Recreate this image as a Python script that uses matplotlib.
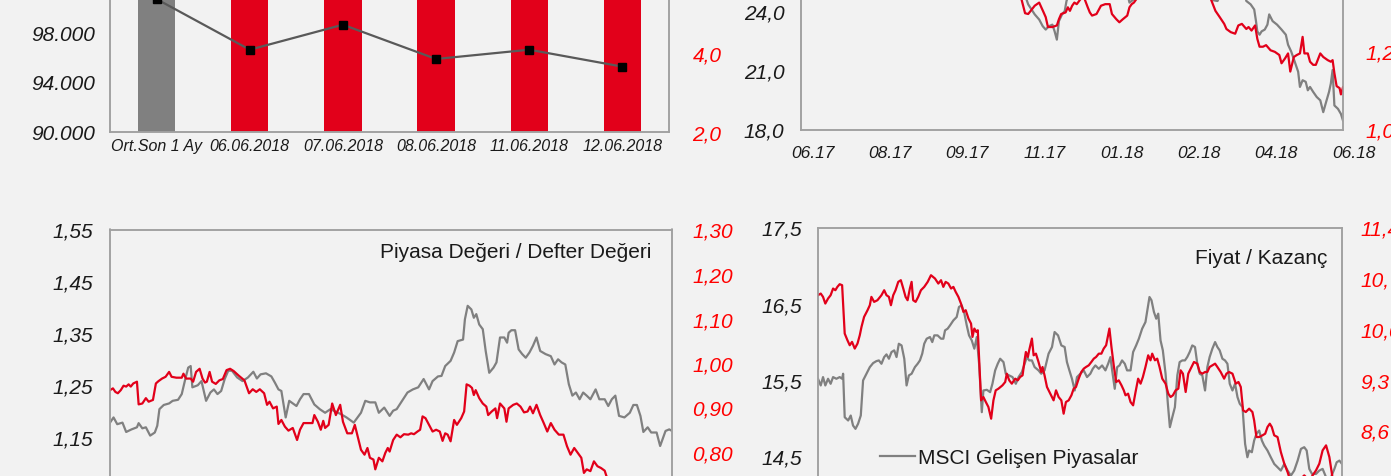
import matplotlib
matplotlib.use("Agg")
import matplotlib.pyplot as plt
import matplotlib.transforms as mtransforms

plt.rcParams['font.family'] = ['Liberation Sans', 'DejaVu Sans']

# ---------------- DATA ----------------
# Panel 1: BIST-100 index (line, left axis) and volume (bars, right axis)
p1_categories = ["Ort.Son 1 Ay", "06.06.2018", "07.06.2018", "08.06.2018", "11.06.2018", "12.06.2018"]
p1_index = [100700, 96610, 98630, 95860, 96610, 95240]
p1_volume = [7.4, 6.6, 6.9, 6.1, 5.9, 6.3]
p1_left_ticks = [90000, 94000, 98000, 102000]
p1_right_ticks = [2.0, 4.0, 6.0]

# Panel 2 (days since 12.06.2017)
p2_gray_x = [0, 30, 60, 90, 120, 145, 150.0, 153.0, 157.4, 160.4, 162.8, 164.8, 166.9, 169.3, 170.8, 172.3,
             173.7, 175.8, 177.6, 178.8, 181.1, 195, 210, 219.5, 221.2, 224.2, 226, 240, 260, 274, 277.6,
             280.5, 283.5, 290, 298.4, 299.9, 302.8, 305.2, 306.4, 307.3, 308.8, 310.2, 312.3, 314.1, 315.3,
             317.6, 320.6, 323.6, 326.5, 328.0, 330.1, 332.5, 334.8, 336.0, 337.8, 339.9, 341.3, 342.8, 344.9,
             347.3, 349.7, 351.7, 353.3, 355.6, 356.8, 358.0, 359.2, 361.6, 363.6, 365.0]
p2_gray_y = [27.0, 27.8, 28.5, 27.6, 28.6, 26.2, 25.0, 24.35, 23.84, 23.58, 23.24, 23.07, 23.24, 23.32, 22.98, 22.56,
             23.50, 23.84, 24.01, 24.52, 25.0, 26.2, 25.8, 25.0, 24.44, 24.61, 25.2, 26.5, 27.0, 25.3, 24.56,
             24.52, 25.0, 25.8, 25.0, 24.52, 24.35, 24.09, 23.50, 22.98, 22.81, 22.98, 23.07, 23.32, 23.84,
             23.50, 23.32, 23.07, 22.81, 22.30, 21.96, 21.44, 20.93, 20.16, 20.50, 20.42, 19.99, 20.16, 19.91,
             19.65, 19.48, 18.88, 19.31, 19.91, 20.33, 21.02, 19.22, 19.05, 18.79, 18.45]
p2_red_x = [0, 30, 60, 90, 120, 140, 148.5, 150.9, 153.0, 155.1, 157.4, 160.4, 163.4, 164.8, 166.3, 169.3, 172.3,
            173.7, 175.2, 178.2, 179.7, 181.1, 182.6, 184.1, 185.7, 190.1, 193.1, 194.5, 196.0, 199.0, 202.0,
            204.9, 207.9, 209.4, 212.3, 214.4, 216.8, 219.7, 221.2, 222.7, 224.2, 225.7, 240, 260, 276.1, 279.1,
            282.0, 285.0, 286.5, 289.4, 292.4, 294.5, 296.9, 299.9, 301.4, 303.4, 305.8, 307.3, 308.8, 311.1,
            313.2, 316.2, 319.1, 322.1, 323.6, 325.9, 328.0, 329.5, 331.9, 333.9, 336.0, 337.8, 339.0, 341.3,
            342.8, 344.9, 346.7, 349.7, 351.7, 354.7, 356.8, 358.0, 359.2, 360.7, 362.7, 363.6, 365.0]
p2_red_y = [1.42, 1.47, 1.50, 1.45, 1.48, 1.40, 1.33, 1.295, 1.293, 1.303, 1.314, 1.322, 1.297, 1.285, 1.260, 1.260,
            1.264, 1.280, 1.293, 1.297, 1.310, 1.301, 1.314, 1.322, 1.318, 1.34, 1.310, 1.297, 1.289, 1.293, 1.314,
            1.318, 1.318, 1.293, 1.280, 1.272, 1.280, 1.289, 1.310, 1.318, 1.322, 1.33, 1.40, 1.44, 1.33, 1.301,
            1.285, 1.268, 1.255, 1.247, 1.243, 1.264, 1.268, 1.255, 1.260, 1.251, 1.264, 1.230, 1.210, 1.210,
            1.214, 1.201, 1.197, 1.189, 1.168, 1.180, 1.193, 1.147, 1.184, 1.189, 1.193, 1.235, 1.193, 1.193,
            1.172, 1.164, 1.164, 1.193, 1.184, 1.176, 1.172, 1.176, 1.143, 1.110, 1.105, 1.089, 1.107]
p2_date_ticks = [0, 52, 104, 156, 208, 260, 312, 364]
p2_date_labels = ["06.17", "08.17", "09.17", "11.17", "01.18", "02.18", "04.18", "06.18"]
p2_left_ticks = [18.0, 21.0, 24.0, 27.0, 30.0]
p2_right_ticks = [1.0, 1.2, 1.4, 1.6]

# Panel 3: Piyasa Değeri / Defter Değeri
p3_gray_x = [0.0, 2.3, 4.7, 8.1, 10.5, 14.0, 17.5, 18.6, 21.0, 23.3,
             26.1, 29.1, 30.7, 32.1, 34.9, 38.4, 40.7, 44.2, 46.6, 48.9,
             50.8, 52.4, 53.5, 57.0, 59.4, 62.4, 65.2, 67.5, 69.8, 72.2,
             74.5, 76.8, 79.2, 82.6, 86.1, 89.6, 93.1, 95.4, 97.8, 101.3,
             104.8, 107.1, 109.4, 111.3, 114.1, 116.4, 121.1, 123.4, 125.7, 129.2,
             132.7, 136.2, 139.7, 143.2, 146.7, 150.2, 153.6, 158.3, 163.0, 165.8,
             168.8, 172.3, 174.6, 178.1, 181.6, 183.9, 186.2, 189.7, 193.2, 196.7,
             200.2, 203.7, 207.2, 209.5, 213.0, 215.3, 217.7, 221.2, 223.5, 225.8,
             229.3, 230.5, 232.3, 234.7, 236.3, 237.9, 239.8, 242.1, 244.0, 246.3,
             249.1, 251.0, 253.3, 256.1, 257.9, 258.9, 260.7, 263.1, 265.4, 267.7,
             270.0, 272.4, 274.7, 277.0, 279.4, 282.9, 286.3, 288.7, 291.0, 293.3,
             295.7, 298.0, 300.3, 302.6, 305.0, 307.3, 309.6, 312.0, 315.4, 317.8,
             321.3, 323.6, 325.9, 328.2, 330.6, 334.1, 337.6, 339.9, 342.2, 344.5,
             346.4, 349.2, 351.5, 355.0, 357.3, 360.8, 363.2, 365.0]
p3_gray_y = [1.178, 1.188, 1.175, 1.178, 1.160, 1.165, 1.169, 1.177, 1.167, 1.169,
             1.153, 1.159, 1.172, 1.204, 1.212, 1.215, 1.220, 1.222, 1.233, 1.262,
             1.284, 1.287, 1.246, 1.250, 1.258, 1.220, 1.236, 1.242, 1.233, 1.239,
             1.262, 1.278, 1.278, 1.265, 1.258, 1.265, 1.276, 1.263, 1.271, 1.273,
             1.267, 1.255, 1.242, 1.239, 1.188, 1.220, 1.210, 1.223, 1.233, 1.233,
             1.213, 1.204, 1.197, 1.204, 1.199, 1.194, 1.188, 1.178, 1.197, 1.220,
             1.217, 1.217, 1.197, 1.207, 1.191, 1.201, 1.204, 1.220, 1.236, 1.242,
             1.246, 1.262, 1.242, 1.258, 1.267, 1.268, 1.287, 1.297, 1.313, 1.335,
             1.338, 1.377, 1.403, 1.396, 1.380, 1.387, 1.367, 1.358, 1.316, 1.274,
             1.284, 1.294, 1.342, 1.342, 1.332, 1.351, 1.356, 1.356, 1.319, 1.310,
             1.303, 1.313, 1.326, 1.342, 1.316, 1.310, 1.306, 1.290, 1.300, 1.294,
             1.290, 1.252, 1.230, 1.236, 1.223, 1.236, 1.230, 1.223, 1.242, 1.223,
             1.223, 1.210, 1.223, 1.230, 1.191, 1.188, 1.197, 1.212, 1.212, 1.191,
             1.160, 1.169, 1.159, 1.159, 1.133, 1.162, 1.165, 1.162]
p3_red_x = [0.0, 1.9, 3.5, 5.1, 7.0, 8.8, 10.5, 12.1, 13.5, 15.1,
            17.5, 18.6, 21.0, 23.3, 25.1, 27.9, 29.8, 31.4, 33.8, 36.1,
            38.4, 40.0, 43.1, 46.6, 47.7, 49.4, 52.4, 54.0, 55.9, 58.2,
            60.1, 61.7, 62.9, 64.7, 66.3, 68.7, 71.0, 73.3, 75.7, 78.0,
            80.3, 83.8, 87.3, 90.3, 92.7, 95.0, 97.3, 100.1, 102.0, 103.6,
            105.9, 108.3, 109.4, 111.3, 113.6, 115.9, 118.7, 121.5, 123.4, 125.7,
            129.2, 131.5, 132.7, 135.0, 136.9, 138.5, 139.7, 142.0, 144.3, 146.7,
            149.5, 151.3, 154.1, 157.1, 159.0, 160.6, 163.0, 165.3, 167.2, 168.8,
            171.1, 172.3, 174.6, 176.9, 178.8, 180.4, 181.6, 183.9, 186.2, 188.6,
            190.9, 193.7, 195.6, 197.4, 199.7, 201.4, 203.0, 204.9, 207.2, 209.5,
            211.8, 214.2, 216.0, 217.7, 219.3, 221.2, 223.5, 225.3, 228.1, 230.0,
            231.6, 233.5, 235.1, 236.3, 237.5, 239.8, 242.1, 244.4, 245.6, 247.9,
            250.3, 251.4, 253.3, 256.1, 257.5, 258.9, 261.9, 264.2, 266.6, 268.9,
            271.2, 272.8, 274.7, 277.0, 279.4, 281.7, 284.0, 286.3, 288.7, 291.5,
            294.5, 296.8, 299.1, 301.5, 303.8, 306.1, 307.8, 309.6, 312.0, 314.3,
            316.6, 318.9, 321.3, 322.4, 325.9, 332.9, 339.9, 346.9, 353.9, 360.8,
            365.0]
p3_red_y = [0.939, 0.943, 0.935, 0.932, 0.939, 0.949, 0.947, 0.952, 0.947, 0.954,
            0.958, 0.907, 0.909, 0.921, 0.913, 0.917, 0.954, 0.959, 0.965, 0.969,
            0.980, 0.969, 0.967, 0.967, 0.976, 0.965, 0.965, 0.958, 0.980, 0.987,
            0.965, 0.956, 0.958, 0.980, 0.958, 0.953, 0.961, 0.964, 0.984, 0.987,
            0.982, 0.971, 0.961, 0.932, 0.941, 0.935, 0.941, 0.932, 0.906, 0.913,
            0.898, 0.902, 0.863, 0.872, 0.857, 0.848, 0.854, 0.827, 0.850, 0.865,
            0.865, 0.865, 0.883, 0.868, 0.850, 0.870, 0.854, 0.861, 0.909, 0.883,
            0.906, 0.868, 0.842, 0.842, 0.861, 0.839, 0.805, 0.794, 0.809, 0.787,
            0.783, 0.761, 0.787, 0.779, 0.798, 0.809, 0.801, 0.827, 0.839, 0.833,
            0.840, 0.839, 0.842, 0.840, 0.846, 0.850, 0.880, 0.876, 0.861, 0.846,
            0.850, 0.846, 0.825, 0.842, 0.839, 0.824, 0.872, 0.861, 0.876, 0.891,
            0.952, 0.949, 0.944, 0.928, 0.939, 0.921, 0.909, 0.902, 0.883, 0.891,
            0.898, 0.876, 0.909, 0.898, 0.868, 0.898, 0.906, 0.909, 0.902, 0.889,
            0.891, 0.902, 0.887, 0.906, 0.883, 0.865, 0.846, 0.865, 0.850, 0.839,
            0.839, 0.813, 0.794, 0.809, 0.798, 0.787, 0.753, 0.761, 0.757, 0.779,
            0.768, 0.764, 0.758, 0.746, 0.730, 0.715, 0.700, 0.710, 0.690, 0.700,
            0.695]
p3_left_ticks = [0.95, 1.05, 1.15, 1.25, 1.35, 1.45, 1.55]
p3_right_ticks = [0.60, 0.70, 0.80, 0.90, 1.00, 1.10, 1.20, 1.30]

# Panel 4: Fiyat / Kazanç
p4_gray_x = [0.0, 1.9, 3.5, 5.1, 7.0, 8.8, 10.5, 12.8, 15.1, 16.8,
             17.5, 18.6, 21.0, 22.8, 24.4, 26.1, 27.9, 29.8, 31.4, 33.8,
             36.1, 38.4, 40.7, 42.4, 44.2, 46.1, 47.7, 49.4, 51.2, 53.1,
             54.7, 56.3, 58.2, 60.1, 61.7, 63.3, 65.2, 67.5, 69.4, 71.0,
             72.6, 74.0, 75.7, 78.0, 79.6, 81.0, 83.3, 85.7, 87.3, 88.5,
             90.3, 92.0, 94.3, 96.6, 98.2, 100.1, 102.0, 103.6, 105.2, 107.1,
             108.9, 110.6, 112.2, 114.1, 115.2, 117.6, 119.9, 121.5, 123.4, 125.2,
             126.9, 129.2, 130.8, 133.2, 135.5, 137.8, 139.7, 142.0, 143.9, 145.5,
             147.1, 149.0, 150.9, 153.6, 155.5, 157.8, 160.6, 163.0, 164.8, 167.2,
             169.5, 171.8, 173.4, 175.1, 176.9, 178.8, 180.4, 182.7, 185.1, 187.4,
             189.7, 191.4, 193.2, 195.6, 197.9, 200.2, 202.1, 203.7, 204.9, 206.7,
             208.4, 210.0, 211.8, 213.7, 215.3, 217.7, 219.5, 221.6, 223.5, 225.8,
             228.1, 230.0, 230.9, 232.3, 234.0, 235.6, 237.0, 238.6, 240.2, 242.1,
             243.7, 245.1, 246.8, 248.6, 250.3, 251.9, 253.8, 255.6, 257.2, 258.9,
             260.7, 262.6, 264.2, 265.9, 267.7, 269.6, 271.2, 272.8, 274.7, 276.6,
             278.2, 279.8, 281.7, 283.5, 285.2, 286.8, 288.7, 290.5, 292.2, 293.8,
             295.7, 297.5, 299.1, 300.3, 302.2, 303.8, 305.4, 307.3, 309.2, 310.8,
             313.1, 315.4, 317.8, 320.1, 322.4, 324.8, 327.1, 329.4, 331.7, 334.1,
             336.4, 338.7, 340.4, 342.2, 344.1, 346.9, 349.2, 351.5, 353.9, 357.3,
             359.7, 361.3, 363.2, 365.0]
p4_gray_y = [15.513, 15.425, 15.535, 15.425, 15.513, 15.447, 15.535, 15.513, 15.535, 15.513,
             15.579, 15.008, 14.965, 15.030, 14.899, 14.855, 14.921, 15.030, 15.491, 15.579,
             15.666, 15.719, 15.745, 15.754, 15.710, 15.798, 15.833, 15.776, 15.864, 15.886,
             15.798, 15.973, 15.951, 15.776, 15.425, 15.557, 15.579, 15.666, 15.710, 15.754,
             15.842, 15.973, 16.039, 16.061, 15.995, 16.083, 16.083, 16.039, 16.039, 16.149,
             16.171, 16.215, 16.280, 16.324, 16.456, 16.478, 16.368, 16.215, 16.083, 16.017,
             15.908, 16.061, 15.710, 15.074, 15.359, 15.368, 15.337, 15.447, 15.623, 15.710,
             15.776, 15.732, 15.579, 15.557, 15.535, 15.447, 15.535, 15.601, 15.710, 15.798,
             15.754, 15.754, 15.666, 15.623, 15.579, 15.623, 15.842, 15.930, 16.127, 16.083,
             15.951, 15.930, 15.732, 15.623, 15.513, 15.359, 15.535, 15.579, 15.623, 15.535,
             15.579, 15.644, 15.688, 15.644, 15.688, 15.623, 15.710, 15.798, 15.623, 15.381,
             15.666, 15.688, 15.754, 15.710, 15.623, 15.623, 15.864, 15.951, 16.039, 16.171,
             16.258, 16.478, 16.587, 16.544, 16.390, 16.302, 16.368, 16.017, 15.886, 15.579,
             15.184, 14.877, 15.008, 15.140, 15.557, 15.732, 15.754, 15.754, 15.798, 15.864,
             15.951, 15.930, 15.710, 15.579, 15.557, 15.359, 15.666, 15.798, 15.908, 15.995,
             15.930, 15.886, 15.776, 15.754, 15.710, 15.447, 15.359, 15.447, 15.272, 15.184,
             15.140, 14.658, 14.482, 14.570, 14.548, 14.701, 14.789, 14.833, 14.701, 14.636,
             14.570, 14.482, 14.394, 14.351, 14.307, 14.394, 14.307, 14.241, 14.307, 14.438,
             14.592, 14.614, 14.570, 14.329, 14.263, 14.263, 14.307, 14.329, 14.219, 14.219,
             14.329, 14.416, 14.438, 14.394]
p4_red_x = [0.0, 1.9, 3.5, 5.1, 7.0, 8.8, 10.5, 12.1, 13.5, 15.1,
            16.8, 18.6, 20.5, 22.1, 23.7, 25.6, 27.5, 29.1, 30.3, 32.1,
            34.5, 36.1, 37.2, 39.1, 41.4, 44.2, 46.1, 47.7, 49.4, 50.8,
            52.4, 54.0, 55.9, 57.7, 59.4, 61.0, 62.4, 64.0, 65.2, 66.3,
            68.0, 69.8, 71.7, 74.0, 76.4, 78.7, 81.5, 83.8, 85.7, 87.3,
            88.9, 90.8, 92.7, 94.3, 95.9, 97.8, 99.6, 101.3, 102.9, 104.8,
            106.6, 107.6, 108.9, 110.3, 111.3, 112.2, 113.6, 115.2, 116.9, 118.7,
            120.6, 122.2, 123.8, 125.7, 128.5, 130.4, 131.5, 133.2, 135.0, 137.4,
            139.2, 140.8, 142.5, 143.9, 144.8, 146.2, 147.1, 149.0, 150.2, 151.8,
            153.6, 155.5, 156.4, 157.8, 159.5, 161.8, 164.1, 165.8, 167.6, 169.5,
            171.1, 172.7, 174.6, 176.5, 178.1, 179.7, 181.6, 183.4, 185.1, 186.7,
            188.6, 190.4, 192.1, 193.7, 195.6, 197.4, 199.0, 200.7, 202.1, 203.0,
            204.4, 206.0, 207.7, 209.5, 211.4, 213.0, 214.2, 216.0, 217.7, 219.5,
            221.2, 223.0, 224.7, 226.3, 228.1, 230.0, 231.6, 232.8, 234.7, 236.3,
            237.9, 239.8, 242.1, 244.0, 245.6, 247.2, 249.1, 251.0, 252.6, 254.2,
            256.1, 257.9, 259.6, 261.9, 264.2, 265.9, 267.7, 269.6, 271.2, 272.8,
            274.7, 276.6, 278.2, 280.5, 282.9, 284.5, 286.3, 288.7, 291.0, 292.9,
            294.5, 296.1, 298.0, 300.3, 302.6, 303.8, 305.4, 307.3, 309.6, 311.5,
            313.1, 314.7, 316.1, 317.8, 320.1, 322.4, 324.8, 327.1, 328.2, 332.9,
            338.7, 342.2, 346.9, 349.2, 351.5, 353.9, 356.2, 358.5, 362.0, 365.0]
p4_red_y = [10.466, 10.489, 10.443, 10.351, 10.420, 10.466, 10.558, 10.535, 10.581, 10.618,
            10.604, 9.937, 9.845, 9.776, 9.822, 9.730, 9.799, 9.914, 10.029, 10.167,
            10.259, 10.328, 10.443, 10.374, 10.397, 10.466, 10.535, 10.466, 10.443, 10.328,
            10.466, 10.535, 10.650, 10.673, 10.558, 10.443, 10.397, 10.558, 10.650, 10.397,
            10.374, 10.443, 10.535, 10.581, 10.650, 10.742, 10.696, 10.627, 10.673, 10.581,
            10.650, 10.627, 10.558, 10.581, 10.512, 10.443, 10.351, 10.236, 10.259, 10.144,
            10.075, 9.891, 10.006, 9.960, 9.983, 9.614, 9.016, 9.062, 8.993, 8.924,
            8.763, 9.016, 9.154, 9.177, 9.223, 9.269, 9.384, 9.292, 9.246, 9.315,
            9.292, 9.338, 9.361, 9.568, 9.683, 9.614, 9.706, 9.868, 9.637, 9.660,
            9.545, 9.407, 9.476, 9.361, 9.200, 9.108, 9.016, 9.154, 9.062, 9.016,
            8.832, 8.993, 9.016, 9.085, 9.177, 9.200, 9.315, 9.407, 9.453, 9.476,
            9.499, 9.545, 9.591, 9.614, 9.660, 9.660, 9.729, 9.776, 9.914, 10.006,
            9.753, 9.499, 9.269, 9.292, 9.223, 9.154, 9.085, 9.108, 8.993, 8.947,
            9.131, 9.315, 9.246, 9.338, 9.476, 9.637, 9.568, 9.660, 9.568, 9.591,
            9.476, 9.315, 9.246, 9.108, 9.062, 9.085, 9.154, 9.177, 9.430, 9.384,
            9.131, 9.384, 9.453, 9.545, 9.522, 9.407, 9.384, 9.407, 9.407, 9.476,
            9.499, 9.522, 9.476, 9.407, 9.315, 9.384, 9.407, 9.384, 9.246, 9.269,
            9.200, 8.878, 8.855, 8.901, 8.855, 8.740, 8.510, 8.510, 8.533, 8.556,
            8.648, 8.694, 8.648, 8.533, 8.510, 8.303, 8.142, 8.027, 7.958, 7.866,
            7.981, 7.912, 8.050, 8.142, 8.326, 8.395, 8.234, 7.935, 7.820, 7.866]
p4_left_ticks = [13.5, 14.5, 15.5, 16.5, 17.5]
p4_right_ticks = [7.2, 7.9, 8.6, 9.3, 10.0, 10.7, 11.4]
p4_legend = ["MSCI Gelişen Piyasalar", "Borsa İstanbul"]

# ---------------- STYLE ----------------
W, H = 1391, 477
BG = "#F2F2F2"
RED = "#E2001A"
GRAY = "#808080"
TICKRED = "#FF0000"
SPINE = "#A0A0A0"
TXT = "#1A1A1A"

fig = plt.figure(figsize=(W / 100, H / 100), dpi=100, facecolor=BG)


def rect(l, t, r, b):
    return [l / W, 1 - b / H, (r - l) / W, (b - t) / H]


def comma(decimals):
    return lambda v: f"{v:.{decimals}f}".replace(".", ",")


def dotted_thousands(v):
    return f"{v:,.0f}".replace(",", ".")


def style(ax, twin, lpad, rpad):
    ax.set_facecolor(BG)
    for a in (ax, twin):
        for s in a.spines.values():
            s.set_color(SPINE)
            s.set_linewidth(1.1)
    ax.tick_params(axis="y", length=0, pad=lpad)
    twin.tick_params(axis="y", length=0, pad=rpad)
    ax.tick_params(axis="x", length=0)
    twin.tick_params(axis="x", length=0)


def yticks(ax, ticks, fmt, color):
    ax.set_yticks(ticks, [fmt(t) for t in ticks], fontstyle="italic", color=color, fontsize=15)


# ---------- Panel 1 ----------
ax1 = fig.add_axes(rect(110, -60, 669, 132.5))
ax1b = ax1.twinx()
style(ax1, ax1b, 10.8, 17)
xpos = list(range(len(p1_categories)))
bar_colors = [GRAY] + [RED] * (len(p1_categories) - 1)
ax1b.bar(xpos, p1_volume, width=0.4, color=bar_colors)
ax1.plot(xpos, p1_index, color="#595959", lw=1.6, marker="s", ms=6, mfc="black", mec="black")
ax1.set_zorder(ax1b.get_zorder() + 1)
ax1.patch.set_visible(False)
ax1.set_xlim(-0.5, len(p1_categories) - 0.5)
ax1.set_ylim(90000, 90000 + 4000 * (192.5 / 49.5))
ax1b.set_ylim(2.0, 2.0 + 2.0 * (192.5 / 78.5))
yticks(ax1, p1_left_ticks, dotted_thousands, TXT)
yticks(ax1b, p1_right_ticks, comma(1), TICKRED)
ax1.set_xticks(xpos, p1_categories, fontstyle="italic", fontsize=11.5, color=TXT)
ax1.tick_params(axis="x", pad=5)

# ---------- Panel 2 ----------
ax2 = fig.add_axes(rect(801, -106, 1343, 130.5))
ax2b = ax2.twinx()
style(ax2, ax2b, 12, 16)
ax2.plot(p2_gray_x, p2_gray_y, color=GRAY, lw=1.6)
ax2b.plot(p2_red_x, p2_red_y, color=RED, lw=1.6)
ax2.set_xlim(0, 365)
ax2.set_ylim(18, 30)
ax2b.set_ylim(1.0, 1.6)
yticks(ax2, p2_left_ticks, comma(1), TXT)
yticks(ax2b, p2_right_ticks, comma(1), TICKRED)
ax2.set_xticks(p2_date_ticks, p2_date_labels, fontstyle="italic", fontsize=12.5, color=TXT)
ax2.tick_params(axis="x", pad=11)
shift = mtransforms.ScaledTranslation(12 / 100, 0, fig.dpi_scale_trans)
for lbl in ax2.get_xticklabels():
    lbl.set_transform(lbl.get_transform() + shift)

# ---------- Panel 3 ----------
ax3 = fig.add_axes(rect(110, 230.5, 672, 542))
ax3b = ax3.twinx()
style(ax3, ax3b, 12, 14.4)
ax3.plot(p3_gray_x, p3_gray_y, color=GRAY, lw=1.6)
ax3b.plot(p3_red_x, p3_red_y, color=RED, lw=1.6)
ax3.set_xlim(0, 365)
ax3.set_ylim(0.95, 1.55)
ax3b.set_ylim(0.60, 1.30)
yticks(ax3, p3_left_ticks, comma(2), TXT)
yticks(ax3b, p3_right_ticks, comma(2), TICKRED)
ax3.set_xticks([])
ax3.annotate("Piyasa Değeri / Defter Değeri", xy=(1, 1), xycoords="axes fraction",
             xytext=(-21, -22.5), textcoords="offset pixels", ha="right", va="center",
             fontsize=15, color=TXT)

# ---------- Panel 4 ----------
ax4 = fig.add_axes(rect(818, 228.5, 1342, 533))
ax4b = ax4.twinx()
style(ax4, ax4b, 11.5, 13)
g4, = ax4.plot(p4_gray_x, p4_gray_y, color=GRAY, lw=1.6)
r4, = ax4b.plot(p4_red_x, p4_red_y, color=RED, lw=1.6)
ax4.set_xlim(0, 365)
ax4.set_ylim(13.5, 17.5)
ax4b.set_ylim(7.2, 11.4)
yticks(ax4, p4_left_ticks, comma(1), TXT)
yticks(ax4b, p4_right_ticks, comma(1), TICKRED)
ax4.set_xticks([])
ax4.annotate("Fiyat / Kazanç", xy=(1, 1), xycoords="axes fraction",
             xytext=(-15, -30), textcoords="offset pixels", ha="right", va="center",
             fontsize=15, color=TXT)
leg = ax4b.legend([g4, r4], p4_legend, loc="upper left",
                  bbox_to_anchor=((880 - 818) / (1342 - 818), (533 - 449) / (533 - 228.5)),
                  frameon=False, fontsize=15, handlelength=1.7, handletextpad=0.1,
                  borderpad=0, borderaxespad=0, labelspacing=1.2)
for t in leg.get_texts():
    t.set_color(TXT)

fig.savefig("out.png", dpi=100, facecolor=BG)
